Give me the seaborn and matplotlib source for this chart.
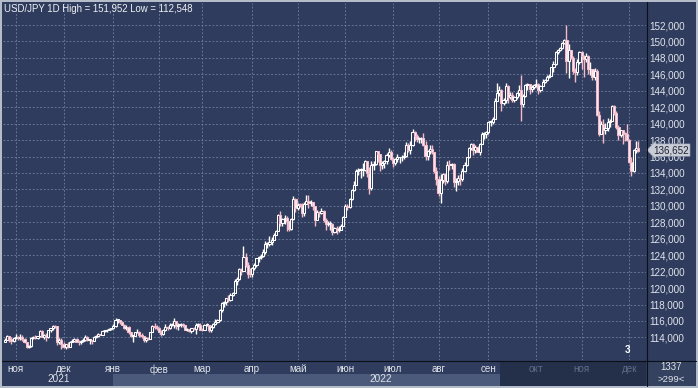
import numpy as np
import pandas as pd
import matplotlib
matplotlib.use("Agg")
import matplotlib.pyplot as plt
import matplotlib.transforms as mtransforms
from matplotlib.patches import Rectangle
from matplotlib.lines import Line2D
import seaborn as sns

# ---------------- data (USD/JPY daily) ----------------
first_open = 113.50
close = [
    113.70, 114.15, 113.80, 113.55, 113.95,
    114.00, 113.95, 114.05, 113.75, 113.40, 112.85, 112.90, 113.90, 114.05, 113.90, 114.15, 114.80, 114.10, 114.25, 114.00, 114.85, 115.10, 115.40, 115.35, 113.40, 113.65, 113.15,
    112.80, 113.15, 112.80, 113.50, 113.55, 113.75, 113.50, 113.40, 113.55, 113.70, 114.05, 113.70, 113.70, 113.60, 114.10, 114.15, 114.40, 114.35, 114.80, 114.85, 114.95, 115.05, 115.10,
    115.35, 116.10, 116.10, 115.85, 115.55, 115.20, 115.30, 114.60, 114.20, 114.20, 114.60, 114.60, 114.30, 114.15, 113.70, 113.95, 113.85, 114.65, 115.35, 115.25, 115.10,
    114.70, 114.45, 114.95, 115.25, 115.10, 115.55, 115.55, 116.05, 115.40, 115.55, 115.65, 115.45, 114.95, 115.00, 114.75, 115.10, 115.00, 115.50, 115.55, 114.95,
    114.90, 115.50, 115.50, 114.85, 115.30, 115.65, 115.90, 116.10, 117.35, 118.20, 118.30, 118.75, 118.60, 119.15, 119.45, 120.80, 121.15, 122.30, 122.05, 123.80, 122.85, 121.75, 121.70,
    122.50, 122.80, 123.60, 123.80, 123.95, 124.35, 125.35, 125.40, 125.60, 125.90, 126.45, 127.00, 128.90, 127.90, 128.40, 128.50, 128.10, 127.20, 128.40, 130.80, 129.70,
    130.15, 130.10, 129.10, 130.20, 130.55, 130.30, 130.45, 129.95, 128.30, 129.20, 129.15, 129.35, 128.25, 127.75, 127.85, 127.85, 126.85, 127.35, 127.10, 127.10, 127.60, 128.70,
    130.00, 129.90, 130.85, 131.90, 132.60, 134.20, 134.35, 134.40, 134.40, 135.45, 133.95, 132.20, 134.95, 135.10, 136.65, 136.25, 134.95, 135.20, 135.45, 136.15, 136.60, 135.75,
    135.20, 135.70, 135.90, 135.90, 136.00, 136.10, 137.45, 136.85, 137.45, 138.95, 138.55, 138.15, 138.20, 138.20, 137.40, 136.10, 136.65, 136.95, 136.50, 134.30, 133.25,
    131.60, 133.15, 133.85, 133.00, 135.00, 134.95, 135.05, 132.90, 133.00, 133.45, 133.25, 134.20, 135.00, 135.90, 137.00, 137.50, 136.75, 137.20, 136.55, 137.50, 138.75, 138.75, 138.95,
    140.20, 140.20, 140.60, 142.75, 143.75, 144.10, 142.55, 142.85, 144.60, 143.20, 143.50, 142.90, 143.20, 143.75, 144.05, 142.35, 143.35, 144.75, 144.80, 144.20, 144.45, 144.75,
    144.85, 144.10, 144.60, 145.10, 145.35, 145.70, 145.85, 146.90, 147.20, 148.70, 149.00, 149.20, 149.85, 150.15, 147.65, 149.00, 148.00, 146.40, 146.30, 147.50, 148.70,
    148.20, 147.85, 148.20, 146.60, 146.60, 145.65, 146.40, 141.00, 138.80, 140.00, 139.20, 139.50, 140.20, 140.35, 142.15, 141.25, 139.55, 138.60, 139.20, 138.90, 138.75, 138.05,
    135.35, 134.30, 136.75, 137.00, 136.652,
]
high = [
    113.90, 114.30, 114.20, 114.00, 114.05,
    114.45, 114.15, 114.40, 114.30, 113.90, 113.45, 113.10, 114.00, 114.15, 114.25, 114.20, 114.95, 114.95, 114.40, 114.50, 114.95, 115.15, 115.50, 115.50, 115.35, 113.95, 113.90,
    113.50, 113.25, 113.40, 113.60, 113.80, 113.95, 113.90, 113.70, 113.65, 113.90, 114.25, 114.20, 113.80, 113.70, 114.20, 114.30, 114.50, 114.45, 114.95, 114.95, 115.05, 115.15, 115.20,
    115.60, 116.35, 116.25, 116.15, 115.95, 115.65, 115.45, 115.35, 114.70, 114.35, 114.70, 115.05, 114.80, 114.50, 114.15, 114.00, 114.10, 114.70, 115.45, 115.70, 115.45,
    115.25, 114.85, 115.05, 115.60, 115.40, 115.70, 115.70, 116.35, 116.05, 115.70, 115.80, 115.75, 115.50, 115.15, 115.05, 115.20, 115.25, 115.70, 115.75, 115.75,
    115.20, 115.60, 115.80, 115.55, 115.45, 115.80, 116.20, 116.25, 117.45, 118.35, 118.45, 118.85, 119.10, 119.40, 119.55, 121.05, 121.40, 122.45, 122.45, 125.10, 124.30, 123.20, 122.40,
    122.60, 123.05, 123.70, 123.95, 124.10, 124.70, 125.75, 125.65, 126.30, 126.25, 126.65, 127.10, 129.00, 129.40, 128.50, 128.85, 128.80, 128.10, 128.50, 131.25, 131.00,
    130.40, 130.30, 130.35, 130.45, 131.35, 131.30, 130.75, 130.50, 130.00, 129.50, 129.40, 129.75, 129.50, 128.50, 128.10, 128.10, 127.95, 127.45, 127.55, 127.50, 127.80, 128.80,
    130.20, 130.20, 130.95, 132.00, 133.00, 134.50, 134.55, 134.60, 135.20, 135.60, 135.45, 134.70, 135.40, 135.45, 136.70, 136.70, 136.35, 135.40, 135.55, 136.40, 137.00, 136.80,
    135.95, 135.85, 136.35, 136.00, 136.20, 136.55, 137.75, 137.70, 137.85, 139.40, 139.05, 138.80, 138.40, 138.35, 138.85, 137.95, 136.80, 137.45, 137.45, 136.55, 134.70,
    133.60, 133.90, 134.00, 134.00, 135.50, 135.55, 135.20, 135.25, 133.35, 133.80, 133.90, 134.55, 135.30, 135.95, 137.20, 137.60, 137.70, 137.45, 137.30, 137.70, 138.95, 139.00, 139.10,
    140.25, 140.40, 140.80, 143.10, 144.95, 144.55, 144.20, 143.15, 144.95, 144.70, 143.90, 143.80, 143.35, 143.85, 144.70, 145.90, 143.55, 144.80, 144.90, 144.85, 144.65, 144.85,
    145.40, 144.90, 144.70, 145.40, 145.45, 145.90, 146.00, 146.95, 147.65, 148.85, 149.10, 149.35, 149.95, 150.30, 151.952, 149.70, 149.00, 148.25, 146.80, 147.90, 148.80,
    148.85, 148.40, 148.55, 148.40, 147.55, 146.60, 146.80, 146.60, 141.60, 140.30, 140.60, 140.10, 140.70, 140.55, 142.25, 142.25, 141.60, 139.80, 139.25, 139.25, 139.00, 139.90,
    138.10, 135.95, 136.90, 137.85, 137.85,
]
low = [
    113.40, 113.65, 113.50, 113.25, 113.40,
    113.75, 113.65, 113.70, 113.60, 113.30, 112.75, 112.75, 112.85, 113.80, 113.80, 113.85, 114.05, 114.00, 113.85, 113.60, 113.95, 114.65, 114.95, 115.20, 113.10, 113.25, 112.548,
    112.70, 112.60, 112.70, 112.80, 113.40, 113.40, 113.40, 113.10, 113.20, 113.40, 113.55, 113.60, 113.15, 113.15, 113.55, 113.95, 114.05, 114.25, 114.30, 114.60, 114.70, 114.85, 114.95,
    115.00, 115.30, 115.75, 115.65, 115.45, 115.05, 114.90, 114.45, 114.00, 113.50, 114.15, 114.50, 114.10, 113.95, 113.50, 113.45, 113.70, 113.80, 114.60, 115.05, 114.90,
    114.60, 114.15, 114.25, 114.80, 114.95, 115.00, 115.35, 115.20, 115.00, 114.90, 115.30, 115.25, 114.85, 114.75, 114.70, 114.50, 114.90, 114.40, 115.30, 114.85,
    114.75, 114.85, 115.35, 114.70, 114.65, 115.10, 115.55, 115.75, 116.05, 117.10, 117.70, 117.95, 118.25, 118.40, 119.00, 119.45, 120.40, 121.00, 121.55, 122.05, 122.60, 121.20, 121.30,
    121.30, 122.15, 122.55, 123.20, 123.50, 123.80, 124.20, 124.90, 125.10, 125.20, 125.80, 126.45, 126.95, 127.50, 127.50, 127.80, 127.00, 126.95, 127.10, 128.30, 129.30,
    129.55, 129.85, 128.60, 128.80, 130.20, 129.80, 129.95, 129.55, 127.50, 128.30, 128.65, 129.00, 128.00, 127.05, 127.55, 127.05, 126.40, 126.75, 126.60, 126.80, 127.10, 127.55,
    128.65, 129.55, 129.70, 130.75, 131.75, 132.55, 133.70, 133.35, 133.60, 134.30, 133.50, 131.50, 131.90, 134.40, 134.95, 135.30, 134.30, 134.50, 134.65, 135.15, 135.95, 135.55,
    134.75, 135.00, 135.30, 135.25, 135.50, 135.75, 135.95, 136.60, 136.35, 137.30, 137.90, 137.80, 137.65, 137.70, 137.30, 135.60, 135.60, 136.30, 136.30, 134.00, 132.50,
    131.20, 130.40, 132.80, 132.60, 132.80, 134.40, 134.45, 132.30, 131.75, 132.60, 132.55, 133.05, 134.10, 134.90, 135.80, 136.75, 136.20, 136.40, 136.50, 136.20, 137.70, 138.10, 138.25,
    138.70, 139.75, 139.95, 140.55, 142.70, 143.35, 141.50, 142.25, 142.55, 142.55, 142.95, 142.65, 142.65, 143.00, 143.35, 140.35, 142.00, 143.25, 144.05, 143.60, 143.90, 144.20,
    144.50, 143.55, 143.90, 144.55, 144.95, 145.20, 145.50, 145.75, 146.30, 147.15, 148.45, 148.80, 149.10, 149.65, 146.20, 145.50, 147.90, 146.10, 145.10, 145.90, 147.30,
    146.60, 145.70, 147.50, 146.10, 145.90, 145.30, 145.30, 140.90, 138.50, 138.80, 137.70, 138.80, 139.10, 139.60, 140.35, 141.00, 139.35, 138.05, 138.40, 137.50, 137.90, 137.90,
    135.25, 133.60, 134.10, 136.45, 136.60,
]
month_labels = ["ноя", "дек", "янв", "фев", "мар", "апр", "май", "июн",
                "июл", "авг", "сен", "окт", "ноя", "дек"]
year_labels = ["2021", "2022"]
y_ticks = list(range(114, 153, 2))
last_price = 136.652
title_text = "USD/JPY 1D High = 151,952 Low = 112,548"

# ---------------- frame ----------------
dates = pd.bdate_range("2021-10-25", "2022-12-07")
df = pd.DataFrame({"date": dates, "close": close, "high": high, "low": low})
df["open"] = df["close"].shift(1).fillna(first_open)
df["high"] = df[["high", "open", "close"]].max(axis=1)
df["low"] = df[["low", "open", "close"]].min(axis=1)
df["i"] = np.arange(len(df))
df["up"] = df["close"] >= df["open"]

month_start = df.groupby(df["date"].dt.to_period("M"))["i"].min().values
month_start = month_start[1:]  # Nov 2021 .. Dec 2022
year_start = df.groupby(df["date"].dt.year)["i"].min().values

# ---------------- style ----------------
PLOT = "#2f3c5d"
PANEL = "#2f3c5d"
BORDER = "#b4bcc9"
YEARBAR = "#4b5a7a"
DARKBAR = "#243049"
GRID = "#71809f"
TXT = "#e0e4eb"
DIM = "#5f6c88"
BULL_EDGE = "#ffffff"
BEAR_EDGE = "#f4bccb"
BEAR_FACE = "#fde6ec"

sns.set_theme(style="dark", rc={"axes.facecolor": PLOT, "figure.facecolor": BORDER})
plt.rcParams["font.family"] = ["Liberation Sans", "DejaVu Sans"]

W, H = 698, 388
fig = plt.figure(figsize=(W / 100, H / 100), dpi=100, facecolor=BORDER)


def box(x0, y0, x1, y1):
    return [x0 / W, 1 - y1 / H, (x1 - x0) / W, (y1 - y0) / H]


# decoration layer in pixel coordinates
bg = fig.add_axes([0, 0, 1, 1], zorder=0)
bg.set_axis_off()
bg.set_xlim(0, W)
bg.set_ylim(H, 0)
bg.add_patch(Rectangle((2, 2), W - 4, H - 4, fc=PANEL, ec="none"))

AX_L, AX_R, AX_T, AX_B = 3, 646, 3, 360
XMIN, XMAX = -0.92, 295.7
YMIN, YMAX = 111.25, 154.68


def px(i):
    return AX_L + (i - XMIN) * (AX_R - AX_L) / (XMAX - XMIN)


jan_px = px(year_start[1])
bg.add_patch(Rectangle((jan_px, 374), AX_R - jan_px, 11.5, fc=YEARBAR, ec="none"))
bg.add_patch(Rectangle((500, 361), AX_R - 500, 24.5, fc=DARKBAR, ec="none"))
bg.add_patch(Rectangle((647, 361), 48, 24.5, fc="#34425f", ec="none"))
bg.text(59, 379.5, year_labels[0], ha="center", va="center", color=TXT, fontsize=7.2)
bg.text(381, 379.5, year_labels[1], ha="center", va="center", color=TXT, fontsize=7.2)
bg.text(671, 367.5, "1337", ha="center", va="center", color=TXT, fontsize=7.0)
bg.text(671, 379.5, ">299<", ha="center", va="center", color=TXT, fontsize=6.8)

# main chart
ax = fig.add_axes(box(AX_L, AX_T, AX_R, AX_B), zorder=2)
ax.set_facecolor(PLOT)
ax.set_xlim(XMIN, XMAX)
ax.set_ylim(YMIN, YMAX)
for s in ax.spines.values():
    s.set_visible(False)

ax.set_yticks(y_ticks)
ax.set_yticklabels([f"{v:.3f}".replace(".", ",") for v in y_ticks])
ax.yaxis.tick_right()
ax.set_xticks(month_start)
ax.set_xticklabels(month_labels)
ax.tick_params(axis="y", length=0, pad=2.0, labelsize=7.1, labelcolor=TXT)
ax.tick_params(axis="x", length=0, pad=3.0, labelsize=7.1)
for k, lab in enumerate(ax.get_xticklabels()):
    lab.set_color(DIM if k >= 11 else TXT)
ax.grid(True, color=GRID, linestyle=(0, (2.2, 2.2)), linewidth=0.6)
ax.set_axisbelow(True)

wick_c = np.where(df["up"], BULL_EDGE, BEAR_EDGE)
ax.vlines(df["i"], df["low"], df["high"], colors=wick_c, linewidth=1.0, zorder=3)
body_lo = df[["open", "close"]].min(axis=1)
body_h = (df["close"] - df["open"]).abs().clip(lower=0.08)
ax.bar(df["i"], body_h, bottom=body_lo, width=1.0,
       color=np.where(df["up"], PLOT, BEAR_FACE),
       edgecolor=np.where(df["up"], BULL_EDGE, BEAR_EDGE),
       linewidth=0.75, zorder=4)

trans = mtransforms.blended_transform_factory(ax.transData, ax.transAxes)
ax.text(month_start[-1] - 1, 0.014, "3", transform=trans, ha="center", va="bottom",
        color="#ffffff", fontsize=7.0, fontweight="bold")

ax.annotate(f"{last_price:.3f}".replace(".", ","), xy=(1.0, last_price),
            xycoords=ax.get_yaxis_transform(), xytext=(5.2, 0.8), textcoords="offset points",
            ha="left", va="center", fontsize=7.1, color="#1b2233",
            bbox=dict(boxstyle="larrow,pad=0.12", fc="#c9cdd5", ec="#8c95a6", lw=0.4),
            annotation_clip=False, zorder=10)

# separators
fig.add_artist(Line2D([AX_R / W + 0.5 / W] * 2, [2 / H, 1 - 2 / H], color="#0b0f18", lw=0.8, zorder=20))
fig.add_artist(Line2D([2 / W, 1 - 2 / W], [1 - (AX_B + 0.5) / H] * 2, color="#0b0f18", lw=0.8, zorder=20))

fig.text(4 / W, 1 - 8.5 / H, title_text, ha="left", va="center", color="#eef0f4",
         fontsize=6.9, zorder=30)

fig.savefig("out.png", dpi=100, facecolor=BORDER)
